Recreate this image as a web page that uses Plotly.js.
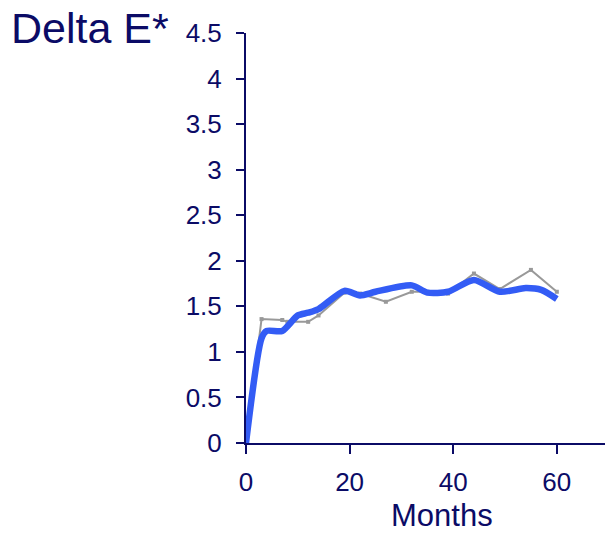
<!DOCTYPE html>
<html>
<head>
<meta charset="utf-8">
<script src="https://cdn.plot.ly/plotly-3.0.1.min.js"></script>
<style>html,body{margin:0;padding:0;background:#fff;}#chart{width:605px;height:534px;}</style>
</head>
<body>
<div id="chart"></div>
<script>
// Gray series (measured, thin line with small markers)
const grayMonths = [0, 3, 7, 8, 12, 14, 19, 22, 27, 32, 35, 39, 44, 49, 55, 60];
const grayValues = [0, 1.36, 1.35, 1.33, 1.33, 1.40, 1.65, 1.64, 1.55, 1.66, 1.66, 1.64, 1.86, 1.69, 1.90, 1.66];
// Blue series (smoothed, thick)
const blueMonths = [0, 3, 4, 7, 10, 12, 14, 19, 22, 25, 32, 35, 39, 44, 49, 54, 57, 60];
const blueValues = [0, 1.15, 1.23, 1.23, 1.40, 1.43, 1.47, 1.67, 1.62, 1.66, 1.73, 1.65, 1.66, 1.79, 1.66, 1.70, 1.68, 1.58];
const xTicks = [0, 20, 40, 60];
const yTicks = [0, 0.5, 1, 1.5, 2, 2.5, 3, 3.5, 4, 4.5];
const yTickText = ['0', '0.5', '1', '1.5', '2', '2.5', '3', '3.5', '4', '4.5'];
const titleText = 'Delta E*';
const xLabel = 'Months';

const navy = '#0b0b66';
const font = 'Liberation Sans, Arial, sans-serif';

const traces = [
  {
    x: grayMonths, y: grayValues, type: 'scatter', mode: 'lines+markers',
    line: {color: '#999999', width: 2},
    marker: {symbol: 'square', size: 4, color: '#999999'},
    hoverinfo: 'skip'
  },
  {
    x: blueMonths, y: blueValues, type: 'scatter', mode: 'lines',
    line: {color: '#335cf5', width: 6.5, shape: 'spline', smoothing: 0.7},
    hoverinfo: 'skip'
  }
];

const layout = {
  width: 605, height: 534,
  margin: {l: 246, r: 0, t: 33, b: 91},
  paper_bgcolor: '#ffffff', plot_bgcolor: '#ffffff',
  showlegend: false,
  font: {family: font, color: navy},
  title: {
    text: titleText, font: {family: font, size: 43, color: navy},
    xref: 'container', yref: 'container', x: 11/605, xanchor: 'left', y: 0.975, yanchor: 'top'
  },
  xaxis: {
    range: [0, 69.3], tickvals: xTicks, ticktext: xTicks.map(String),
    showgrid: false, zeroline: false, showline: true, linecolor: navy, linewidth: 2,
    ticks: 'outside', ticklen: 9, tickwidth: 2, tickcolor: navy,
    tickfont: {family: font, size: 26, color: navy}, ticklabelstandoff: 6
  },
  yaxis: {
    range: [0, 4.5], tickvals: yTicks, ticktext: yTickText,
    showgrid: false, zeroline: false, showline: true, linecolor: navy, linewidth: 2,
    ticks: 'outside', ticklen: 8, tickwidth: 2, tickcolor: navy,
    tickfont: {family: font, size: 26, color: navy}, ticklabelstandoff: 9
  },
  annotations: [{
    text: xLabel, xref: 'paper', yref: 'paper', x: 0.546, y: -0.222,
    xanchor: 'center', yanchor: 'bottom', showarrow: false, borderpad: 0,
    font: {family: font, size: 31, color: navy}
  }]
};

Plotly.newPlot('chart', traces, layout, {staticPlot: true, displayModeBar: false});
</script>
</body>
</html>
